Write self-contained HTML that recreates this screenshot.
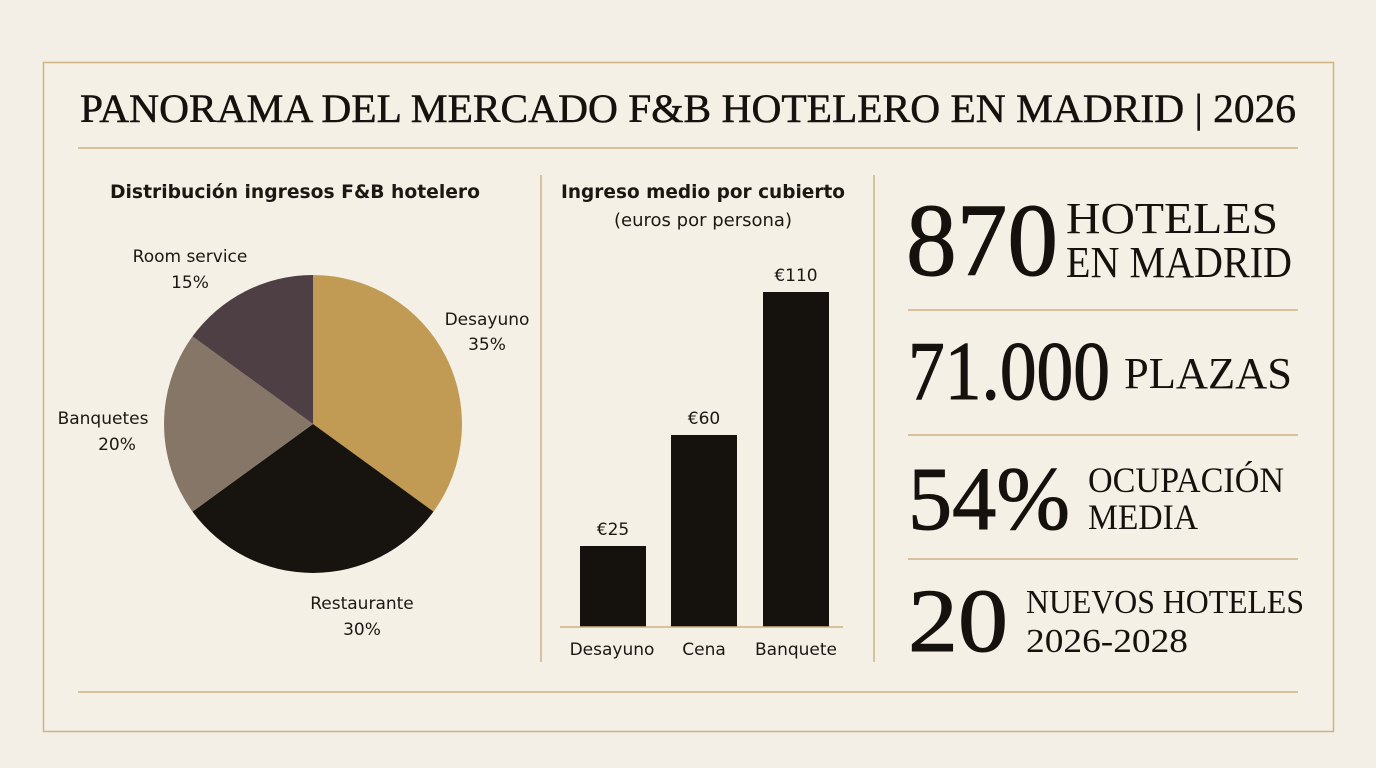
<!DOCTYPE html>
<html><head><meta charset="utf-8"><style>
html,body{margin:0;padding:0;background:#f3efe6;}
svg{display:block}
.s{font-family:"Liberation Serif",serif;fill:#15120e}
.a{font-family:"DejaVu Sans","Liberation Sans",sans-serif;fill:#1b1814}
</style></head><body>
<svg width="1376" height="768" viewBox="0 0 1376 768">
<rect width="1376" height="768" fill="#f3efe6"/>
<rect x="43.5" y="62.5" width="1290" height="669" fill="#f4f0e6" stroke="#cfb285" stroke-width="1.5"/>
<text class="s" x="688" y="122" font-size="40" text-anchor="middle" textLength="1216" lengthAdjust="spacingAndGlyphs" stroke="#15120e" stroke-width="0.5">PANORAMA DEL MERCADO F&amp;B HOTELERO EN MADRID | 2026</text>
<line x1="78" y1="148" x2="1298" y2="148" stroke="#cfb285" stroke-width="1.5"/>
<line x1="78" y1="692" x2="1298" y2="692" stroke="#cfb285" stroke-width="1.5"/>
<line x1="541" y1="175" x2="541" y2="662" stroke="#cfb285" stroke-width="1.5"/>
<line x1="874" y1="175" x2="874" y2="662" stroke="#cfb285" stroke-width="1.5"/>

<text class="a" x="295" y="198" font-size="19" font-weight="bold" text-anchor="middle" textLength="370" lengthAdjust="spacingAndGlyphs">Distribución ingresos F&amp;B hotelero</text>
<path d="M313,424 L313,275 A149,149 0 0 1 433.5,511.6 Z" fill="#c19b54"/>
<path d="M313,424 L433.5,511.6 A149,149 0 0 1 192.5,511.6 Z" fill="#17130f"/>
<path d="M313,424 L192.5,511.6 A149,149 0 0 1 192.5,336.4 Z" fill="#857667"/>
<path d="M313,424 L192.5,336.4 A149,149 0 0 1 313,275 Z" fill="#4d3f43"/>
<g class="a" font-size="17" text-anchor="middle">
<text x="190" y="262">Room service</text><text x="190" y="288">15%</text>
<text x="487" y="325">Desayuno</text><text x="487" y="350">35%</text>
<text x="103" y="424">Banquetes</text><text x="117" y="450">20%</text>
<text x="362" y="609">Restaurante</text><text x="362" y="635">30%</text>
</g>

<text class="a" x="703" y="198" font-size="19" font-weight="bold" text-anchor="middle" textLength="284" lengthAdjust="spacingAndGlyphs">Ingreso medio por cubierto</text>
<text class="a" x="703" y="226" font-size="18" text-anchor="middle">(euros por persona)</text>
<rect x="580" y="546" width="66" height="81" fill="#15110c"/>
<rect x="671" y="435" width="66" height="192" fill="#15110c"/>
<rect x="763" y="292" width="66" height="335" fill="#15110c"/>
<line x1="560" y1="627" x2="843" y2="627" stroke="#cfb285" stroke-width="1.5"/>
<g class="a" font-size="17" text-anchor="middle">
<text x="613" y="535">€25</text><text x="704" y="424">€60</text><text x="796" y="281">€110</text>
<text x="612" y="655">Desayuno</text><text x="704" y="655">Cena</text><text x="796" y="655">Banquete</text>
</g>

<g class="s">
<text x="906" y="275" font-size="104" textLength="152" lengthAdjust="spacingAndGlyphs" stroke="#15120e" stroke-width="1">870</text>
<text x="1066" y="233" font-size="44" textLength="212" lengthAdjust="spacingAndGlyphs">HOTELES</text>
<text x="1066" y="277" font-size="44" textLength="226" lengthAdjust="spacingAndGlyphs">EN MADRID</text>
<text x="908" y="399" font-size="84" textLength="202" lengthAdjust="spacingAndGlyphs" stroke="#15120e" stroke-width="1">71.000</text>
<text x="1124" y="388" font-size="44" textLength="168" lengthAdjust="spacingAndGlyphs">PLAZAS</text>
<text x="908" y="529" font-size="90" textLength="162" lengthAdjust="spacingAndGlyphs" stroke="#15120e" stroke-width="1">54%</text>
<text x="1088" y="492" font-size="36" textLength="196" lengthAdjust="spacingAndGlyphs">OCUPACIÓN</text>
<text x="1088" y="529" font-size="36" textLength="110" lengthAdjust="spacingAndGlyphs">MEDIA</text>
<text x="908" y="651" font-size="90" textLength="100" lengthAdjust="spacingAndGlyphs" stroke="#15120e" stroke-width="1">20</text>
<text x="1026" y="613" font-size="34" textLength="278" lengthAdjust="spacingAndGlyphs">NUEVOS HOTELES</text>
<text x="1026" y="652" font-size="34" textLength="162" lengthAdjust="spacingAndGlyphs">2026-2028</text>
</g>
<g stroke="#cfb285" stroke-width="1.5">
<line x1="908" y1="310" x2="1298" y2="310"/>
<line x1="908" y1="435" x2="1298" y2="435"/>
<line x1="908" y1="559" x2="1298" y2="559"/>
</g>
</svg>
</body></html>
